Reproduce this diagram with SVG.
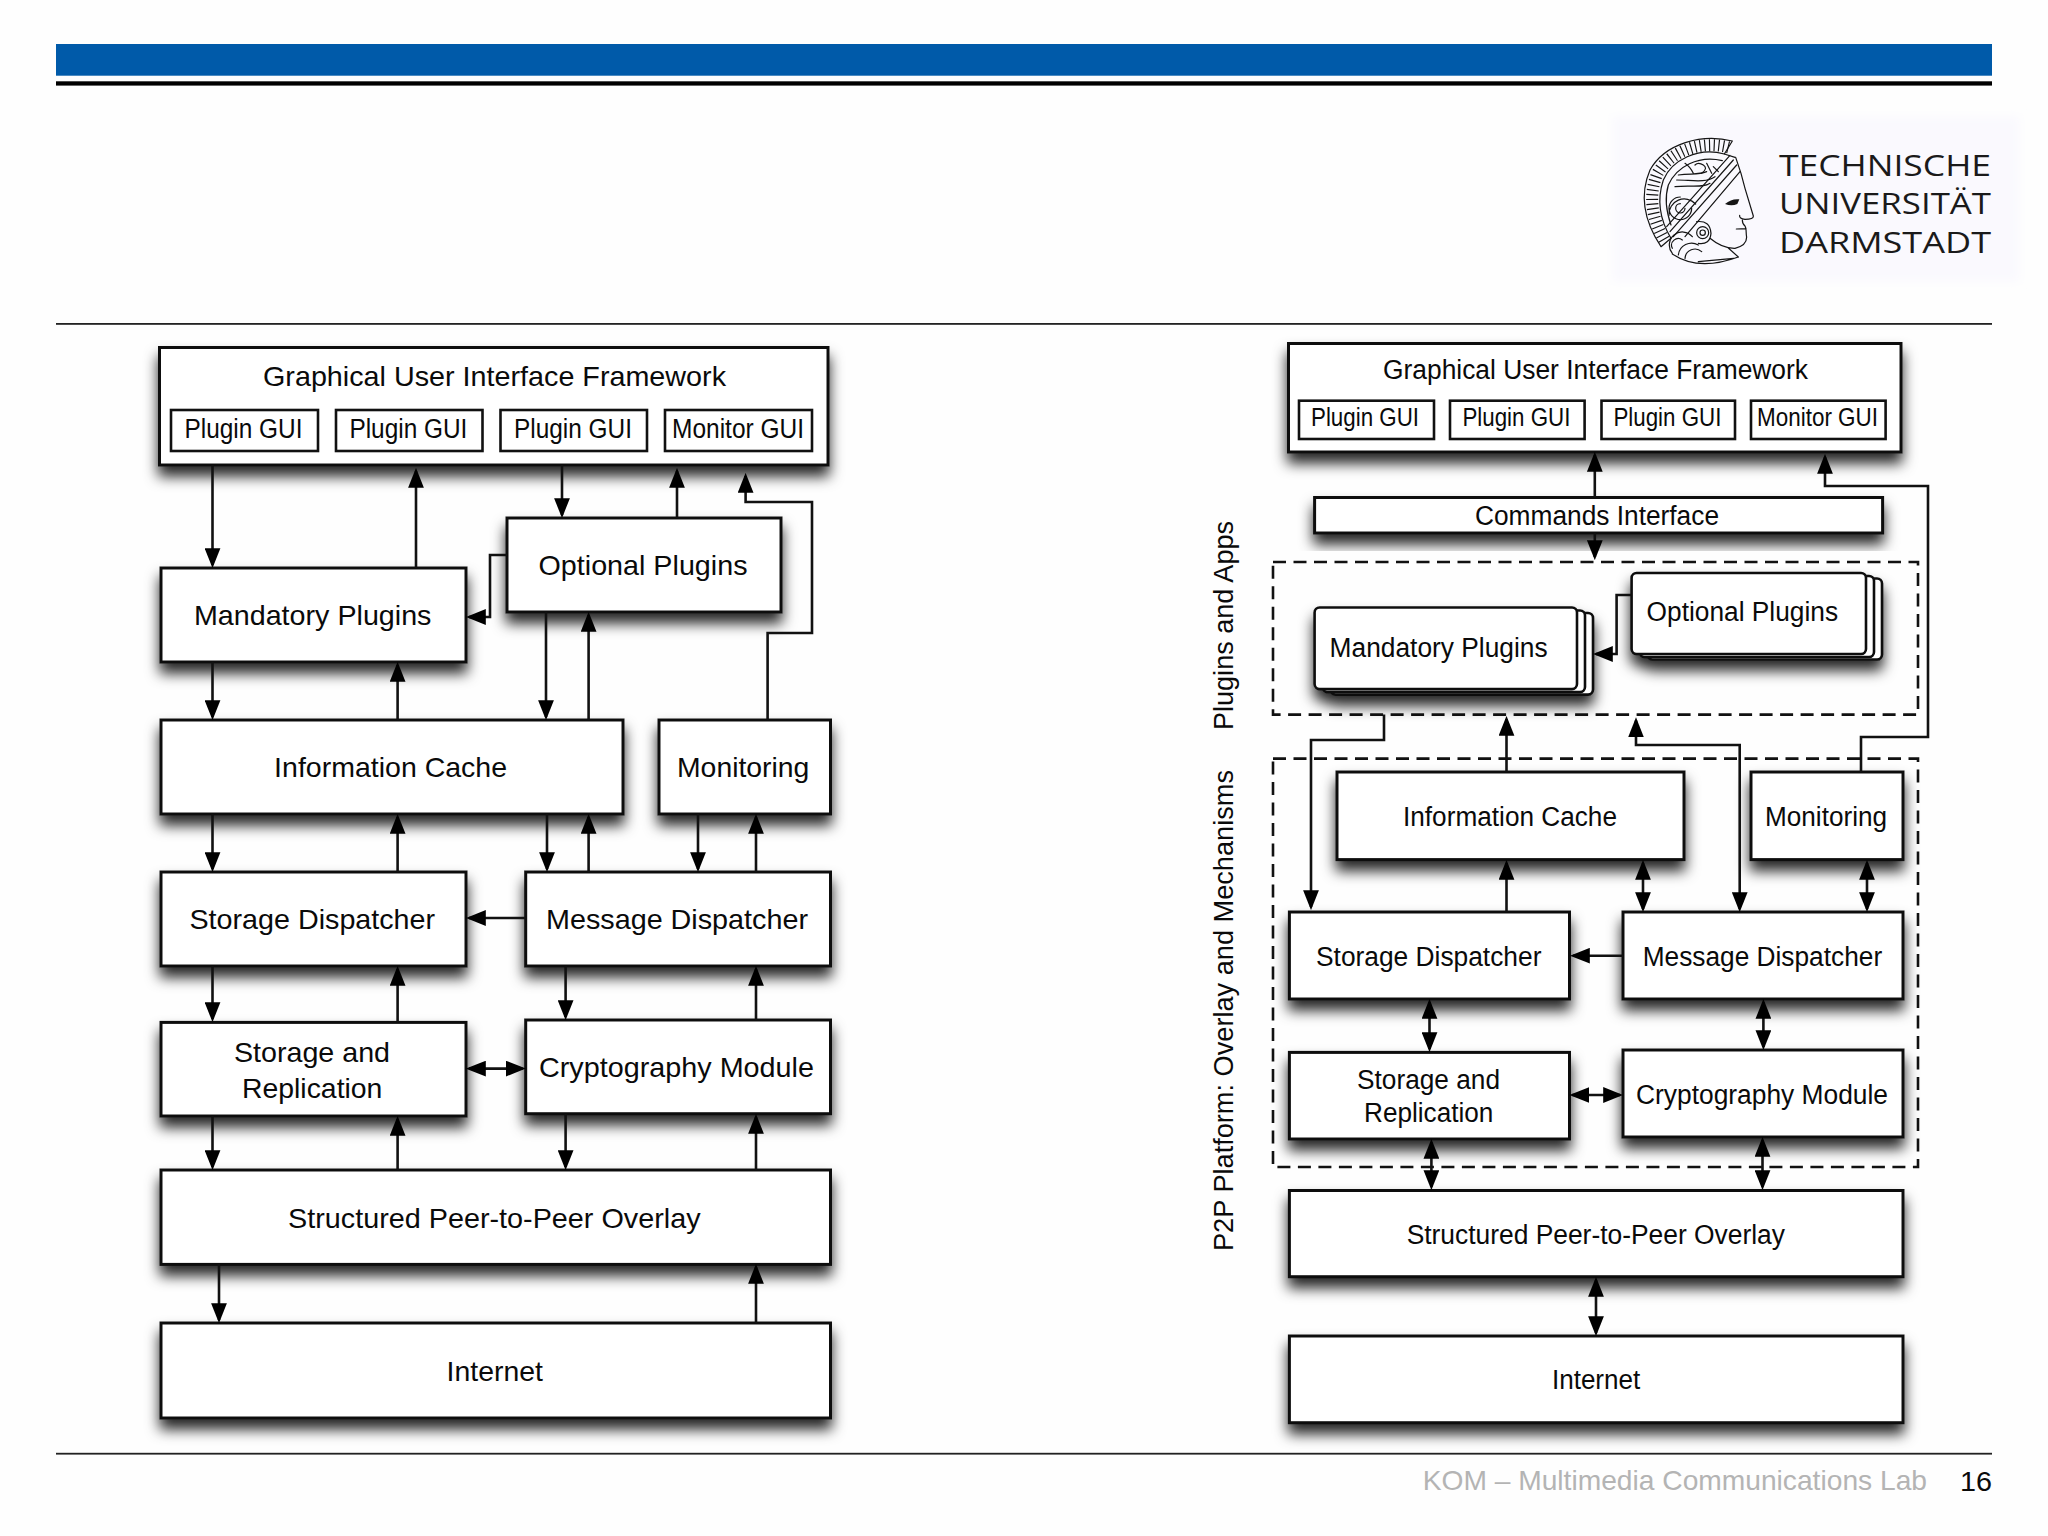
<svg xmlns="http://www.w3.org/2000/svg" width="2048" height="1536" viewBox="0 0 2048 1536">
<style>
text{font-family:"Liberation Sans",Arial,sans-serif;fill:#0a0a0a;text-anchor:middle}
.b{fill:#fff;stroke:#111;stroke-width:3}
.i{fill:#fff;stroke:#111;stroke-width:2.6}
.c{fill:none;stroke:#111;stroke-width:2.6}
.d{fill:none;stroke:#111;stroke-width:2.6;stroke-dasharray:13 7.5}
.l{font-size:28.5px}
.m{font-size:27px}
.k{font-size:25.5px}
.r{text-anchor:start;font-size:27px}
.logo{font-family:"Open Sans","Noto Sans",sans-serif;font-weight:400;font-size:30px;text-anchor:start;fill:#1a1a1a}
.h{fill:none;stroke:#151515;stroke-width:3.600;stroke-linecap:round;stroke-linejoin:round}
</style>
<defs>
<filter id="s" x="-15%" y="-30%" width="130%" height="180%"><feDropShadow dx="0" dy="10" stdDeviation="7" flood-color="#000" flood-opacity="0.85"/></filter>
<filter id="f" x="-10%" y="-20%" width="120%" height="140%"><feGaussianBlur stdDeviation="5"/></filter>
<marker id="a" markerUnits="userSpaceOnUse" markerWidth="20" markerHeight="16" viewBox="0 0 19 15" refX="16" refY="7.5" orient="auto-start-reverse"><path d="M0 0L19 7.5L0 15Z" fill="#000"/></marker>
</defs>
<rect width="2048" height="1536" fill="#fefefe"/>
<g id="header">
<rect x="56" y="44" width="1936" height="31.700" fill="#005aa9"/>
<rect x="56" y="81.300" width="1936" height="4.300" fill="#000"/>
<rect x="56" y="323" width="1936" height="1.800" fill="#222"/>
<rect x="56" y="1452.800" width="1936" height="1.800" fill="#222"/>
</g>
<g id="logo">
<rect x="1612" y="116" width="408" height="166" fill="#faf9fe" filter="url(#f)"/>
<g transform="translate(1635 130) scale(.33333)">
<path d="M281 52C195 30 100 65 65 135C40 200 50 270 93 338" fill="none" stroke="#151515" stroke-width="36" stroke-dasharray="3.500 10.500"/>
<path class="h" d="M292 33C200 10 90 40 45 120C15 190 25 270 78 350L108 325C75 270 65 210 85 150C110 90 190 50 268 72Z"/>
<path class="h" d="M262 92C190 75 125 110 100 165C88 205 92 240 108 285"/>
<path class="h" d="M302 82L318 130L330 175L355 258Q356 268 330 268Q312 266 314 256M322 270Q322 282 330 288L333 296L304 297M333 298L334 315Q340 345 300 355Q262 356 225 325M280 354L310 381M112 372Q190 425 310 381M190 395L296 385"/>
<path d="M270 222Q290 205 313 208L307 222Q290 229 270 222Z" fill="#151515"/>
<path class="h" d="M295 90L105 305M305 105L115 320M315 125L150 320M285 76L95 290M300 82L268 72"/>
<circle class="h" cx="203" cy="308" r="18"/><circle class="h" cx="203" cy="308" r="8"/><path class="h" d="M185 275Q225 270 228 310Q225 345 190 340"/>
<path class="h" d="M150 235a14 14 0 1 1-14-14M170 235a34 34 0 1 1-34-34M182 222a46 46 0 0 0-80 34M120 170C170 165 205 175 225 160M125 150C170 150 210 160 240 140M130 135C170 130 190 135 215 125"/>
<path class="h" d="M150 100q15 10 25 30M180 105q10-10 25 0t-5 25M215 100l15 30M235 110l15 15M112 355a20 20 0 0 1 30-25M112 370a38 38 0 0 1 60-50M130 375a40 40 0 0 1 60-30M150 385a30 30 0 0 1 50-20"/>
</g>
<text class="logo" x="1779" y="176" textLength="212" lengthAdjust="spacingAndGlyphs">TECHNISCHE</text>
<text class="logo" x="1779" y="214.300" textLength="212" lengthAdjust="spacingAndGlyphs">UNIVERSITÄT</text>
<text class="logo" x="1779" y="252.700" textLength="212" lengthAdjust="spacingAndGlyphs">DARMSTADT</text>
</g>

<!-- left panel -->
<g id="l-gui"><rect class="b" x="159.500" y="347.500" width="668.500" height="117.500" filter="url(#s)"/>
<text class="l" x="494.500" y="386" textLength="463" lengthAdjust="spacingAndGlyphs">Graphical User Interface Framework</text>
<rect class="i" x="171" y="410" width="147" height="41"/><text class="m" x="243.500" y="438" textLength="118" lengthAdjust="spacingAndGlyphs">Plugin GUI</text>
<rect class="i" x="336" y="410" width="146.500" height="41"/><text class="m" x="408.400" y="438" textLength="118" lengthAdjust="spacingAndGlyphs">Plugin GUI</text>
<rect class="i" x="500.500" y="410" width="146.500" height="41"/><text class="m" x="573" y="438" textLength="118" lengthAdjust="spacingAndGlyphs">Plugin GUI</text>
<rect class="i" x="665" y="410" width="147" height="41"/><text class="m" x="738" y="438" textLength="132" lengthAdjust="spacingAndGlyphs">Monitor GUI</text></g>
<g id="l-mandatory"><rect class="b" x="161" y="568" width="305" height="94" filter="url(#s)"/><text class="l" x="312.700" y="625" textLength="237.500" lengthAdjust="spacingAndGlyphs">Mandatory Plugins</text></g>
<g id="l-optional"><rect class="b" x="507" y="518" width="274" height="94" filter="url(#s)"/><text class="l" x="643" y="575" textLength="209" lengthAdjust="spacingAndGlyphs">Optional Plugins</text></g>
<g id="l-cache"><rect class="b" x="161" y="720" width="462" height="94" filter="url(#s)"/><text class="l" x="390.600" y="777" textLength="233" lengthAdjust="spacingAndGlyphs">Information Cache</text></g>
<g id="l-monitoring"><rect class="b" x="659" y="720" width="171.500" height="94" filter="url(#s)"/><text class="l" x="743.200" y="777" textLength="132.400" lengthAdjust="spacingAndGlyphs">Monitoring</text></g>
<g id="l-storage-d"><rect class="b" x="161" y="872" width="305" height="94" filter="url(#s)"/><text class="l" x="312.300" y="929" textLength="245.600" lengthAdjust="spacingAndGlyphs">Storage Dispatcher</text></g>
<g id="l-message-d"><rect class="b" x="525.700" y="872" width="304.800" height="94" filter="url(#s)"/><text class="l" x="677" y="929" textLength="262" lengthAdjust="spacingAndGlyphs">Message Dispatcher</text></g>
<g id="l-storage-r"><rect class="b" x="161" y="1022.400" width="305" height="93.600" filter="url(#s)"/><text class="l" x="312" y="1062" textLength="156" lengthAdjust="spacingAndGlyphs">Storage and</text><text class="l" x="312.200" y="1098" textLength="140.400" lengthAdjust="spacingAndGlyphs">Replication</text></g>
<g id="l-crypto"><rect class="b" x="525.700" y="1020" width="304.800" height="93.700" filter="url(#s)"/><text class="l" x="676.500" y="1077" textLength="275" lengthAdjust="spacingAndGlyphs">Cryptography Module</text></g>
<g id="l-overlay"><rect class="b" x="161" y="1170" width="669.500" height="94.400" filter="url(#s)"/><text class="l" x="494.300" y="1227.600" textLength="412.600" lengthAdjust="spacingAndGlyphs">Structured Peer-to-Peer Overlay</text></g>
<g id="l-internet"><rect class="b" x="161" y="1323" width="669.500" height="95" filter="url(#s)"/><text class="l" x="494.800" y="1381" textLength="96.400" lengthAdjust="spacingAndGlyphs">Internet</text></g>

<!-- right panel -->
<g id="r-gui"><rect class="b" x="1288.500" y="343.500" width="612.500" height="108.500" filter="url(#s)"/>
<text class="m" x="1595.500" y="379" textLength="425" lengthAdjust="spacingAndGlyphs">Graphical User Interface Framework</text>
<rect class="i" x="1299" y="400.700" width="135" height="38.300"/><text class="k" x="1365" y="426.400" textLength="108" lengthAdjust="spacingAndGlyphs">Plugin GUI</text>
<rect class="i" x="1450" y="400.700" width="134.600" height="38.300"/><text class="k" x="1516.400" y="426.400" textLength="108" lengthAdjust="spacingAndGlyphs">Plugin GUI</text>
<rect class="i" x="1601.500" y="400.700" width="133.500" height="38.300"/><text class="k" x="1667.400" y="426.400" textLength="108" lengthAdjust="spacingAndGlyphs">Plugin GUI</text>
<rect class="i" x="1751" y="400.700" width="134.600" height="38.300"/><text class="k" x="1817.500" y="426.400" textLength="121" lengthAdjust="spacingAndGlyphs">Monitor GUI</text></g>
<g id="r-commands"><rect class="b" x="1314.600" y="497.500" width="568" height="35.500" filter="url(#s)"/><text class="m" x="1597" y="524.600" textLength="244" lengthAdjust="spacingAndGlyphs">Commands Interface</text></g>
<g id="r-plugins-frame"><rect class="d" x="1273" y="562" width="645" height="152.600"/></g>
<g id="r-platform-frame"><rect class="d" x="1273" y="758.600" width="645" height="408.400"/></g>
<g id="r-mandatory"><g filter="url(#s)"><rect class="i" x="1330.600" y="613" width="262.400" height="81.600" rx="5"/><rect class="i" x="1322.600" y="610.500" width="262.400" height="81.600" rx="5"/><rect class="i" x="1314.600" y="607.500" width="262.400" height="81.600" rx="5"/></g><text class="m" x="1438.600" y="656.800" textLength="218" lengthAdjust="spacingAndGlyphs">Mandatory Plugins</text></g>
<g id="r-optional"><g filter="url(#s)"><rect class="i" x="1647.600" y="578.500" width="234.400" height="81" rx="5"/><rect class="i" x="1639.600" y="576" width="234.400" height="81" rx="5"/><rect class="i" x="1631.600" y="573" width="234.400" height="81" rx="5"/></g><text class="m" x="1742.300" y="621" textLength="191.500" lengthAdjust="spacingAndGlyphs">Optional Plugins</text></g>
<g id="r-cache"><rect class="b" x="1337" y="772" width="347" height="87.600" filter="url(#s)"/><text class="m" x="1510" y="825.700" textLength="214" lengthAdjust="spacingAndGlyphs">Information Cache</text></g>
<g id="r-monitoring"><rect class="b" x="1751" y="772" width="152" height="87.600" filter="url(#s)"/><text class="m" x="1826" y="825.700" textLength="122" lengthAdjust="spacingAndGlyphs">Monitoring</text></g>
<g id="r-storage-d"><rect class="b" x="1289.400" y="912" width="280.100" height="87" filter="url(#s)"/><text class="m" x="1428.700" y="965.800" textLength="225.400" lengthAdjust="spacingAndGlyphs">Storage Dispatcher</text></g>
<g id="r-message-d"><rect class="b" x="1623" y="912" width="280" height="87" filter="url(#s)"/><text class="m" x="1762.400" y="965.800" textLength="239.500" lengthAdjust="spacingAndGlyphs">Message Dispatcher</text></g>
<g id="r-storage-r"><rect class="b" x="1289.400" y="1052.400" width="280.100" height="86.600" filter="url(#s)"/><text class="m" x="1428.500" y="1089" textLength="143" lengthAdjust="spacingAndGlyphs">Storage and</text><text class="m" x="1428.700" y="1122" textLength="129.400" lengthAdjust="spacingAndGlyphs">Replication</text></g>
<g id="r-crypto"><rect class="b" x="1623" y="1050" width="280" height="87" filter="url(#s)"/><text class="m" x="1762" y="1104" textLength="252" lengthAdjust="spacingAndGlyphs">Cryptography Module</text></g>
<g id="r-overlay"><rect class="b" x="1289.400" y="1190.500" width="613.600" height="86.200" filter="url(#s)"/><text class="m" x="1595.800" y="1244" textLength="378.300" lengthAdjust="spacingAndGlyphs">Structured Peer-to-Peer Overlay</text></g>
<g id="r-internet"><rect class="b" x="1289.400" y="1336" width="613.600" height="86.700" filter="url(#s)"/><text class="m" x="1596.100" y="1389" textLength="88.300" lengthAdjust="spacingAndGlyphs">Internet</text></g>

<g id="connectors">
<path class="c" marker-end="url(#a)" d="M212.500 465V565"/>
<path class="c" marker-end="url(#a)" d="M416 568V471"/>
<path class="c" marker-end="url(#a)" d="M562 465V515"/>
<path class="c" marker-end="url(#a)" d="M677 518V471"/>
<path class="c" marker-end="url(#a)" d="M767.600 720V633H812V502H745.600V476"/>
<path class="c" marker-end="url(#a)" d="M507 555H490V617H469"/>
<path class="c" marker-end="url(#a)" d="M212.500 662V717"/>
<path class="c" marker-end="url(#a)" d="M397.600 720V665"/>
<path class="c" marker-end="url(#a)" d="M546 612V717"/>
<path class="c" marker-end="url(#a)" d="M588.600 720V615"/>
<path class="c" marker-end="url(#a)" d="M212.500 814V869"/>
<path class="c" marker-end="url(#a)" d="M397.600 872V817"/>
<path class="c" marker-end="url(#a)" d="M547 814V869"/>
<path class="c" marker-end="url(#a)" d="M588.600 872V817"/>
<path class="c" marker-end="url(#a)" d="M698 814V869"/>
<path class="c" marker-end="url(#a)" d="M756 872V817"/>
<path class="c" marker-end="url(#a)" d="M525.700 918H469"/>
<path class="c" marker-end="url(#a)" d="M212.500 966V1019"/>
<path class="c" marker-end="url(#a)" d="M397.600 1022V969"/>
<path class="c" marker-end="url(#a)" d="M565.600 966V1017"/>
<path class="c" marker-end="url(#a)" d="M756 1020V969"/>
<path class="c" marker-end="url(#a)" marker-start="url(#a)" d="M469 1068.600H522.700"/>
<path class="c" marker-end="url(#a)" d="M212.500 1116V1167"/>
<path class="c" marker-end="url(#a)" d="M397.600 1170V1119"/>
<path class="c" marker-end="url(#a)" d="M565.600 1114V1167"/>
<path class="c" marker-end="url(#a)" d="M756 1170V1117"/>
<path class="c" marker-end="url(#a)" d="M219 1264V1320"/>
<path class="c" marker-end="url(#a)" d="M756 1323V1267"/>
<path class="c" marker-end="url(#a)" d="M1594.800 497V455"/>
<path class="c" marker-end="url(#a)" d="M1594.800 533V557"/>
<path class="c" marker-end="url(#a)" d="M1384 714.600V740H1311V907"/>
<path class="c" marker-end="url(#a)" d="M1506.500 772V719"/>
<path class="c" marker-end="url(#a)" d="M1506.500 912V863"/>
<path class="c" marker-end="url(#a)" marker-start="url(#a)" d="M1643 863V909"/>
<path class="c" marker-end="url(#a)" marker-start="url(#a)" d="M1867 863V909"/>
<path class="c" marker-end="url(#a)" marker-start="url(#a)" d="M1739.700 909V745H1636V720.500"/>
<path class="c" marker-end="url(#a)" d="M1861 772V737H1928V486H1825V457"/>
<path class="c" marker-end="url(#a)" d="M1623 955.700H1573"/>
<path class="c" marker-end="url(#a)" marker-start="url(#a)" d="M1429.500 1002V1049"/>
<path class="c" marker-end="url(#a)" marker-start="url(#a)" d="M1763.400 1002V1047"/>
<path class="c" marker-end="url(#a)" marker-start="url(#a)" d="M1572.500 1095H1620"/>
<path class="c" marker-end="url(#a)" marker-start="url(#a)" d="M1431.400 1142V1187"/>
<path class="c" marker-end="url(#a)" marker-start="url(#a)" d="M1762.500 1140V1187"/>
<path class="c" marker-end="url(#a)" marker-start="url(#a)" d="M1596 1280V1333"/>
<path class="c" marker-end="url(#a)" d="M1631.600 595H1616.600V654H1596"/>
</g>

<g id="labels">
<text class="r" transform="rotate(-90 1232.600 730)" x="1232.600" y="730" textLength="209" lengthAdjust="spacingAndGlyphs">Plugins and Apps</text>
<text class="r" transform="rotate(-90 1232.600 1251)" x="1232.600" y="1251" textLength="481" lengthAdjust="spacingAndGlyphs">P2P Platform: Overlay and Mechanisms</text>
</g>
<g id="footer">
<text x="1422.700" y="1490" style="text-anchor:start;font-size:28px;fill:#b4b4b4" textLength="504.300" lengthAdjust="spacingAndGlyphs">KOM – Multimedia Communications Lab</text>
<text x="1960" y="1491" style="text-anchor:start;font-size:28px" textLength="32" lengthAdjust="spacingAndGlyphs">16</text>
</g>
</svg>
